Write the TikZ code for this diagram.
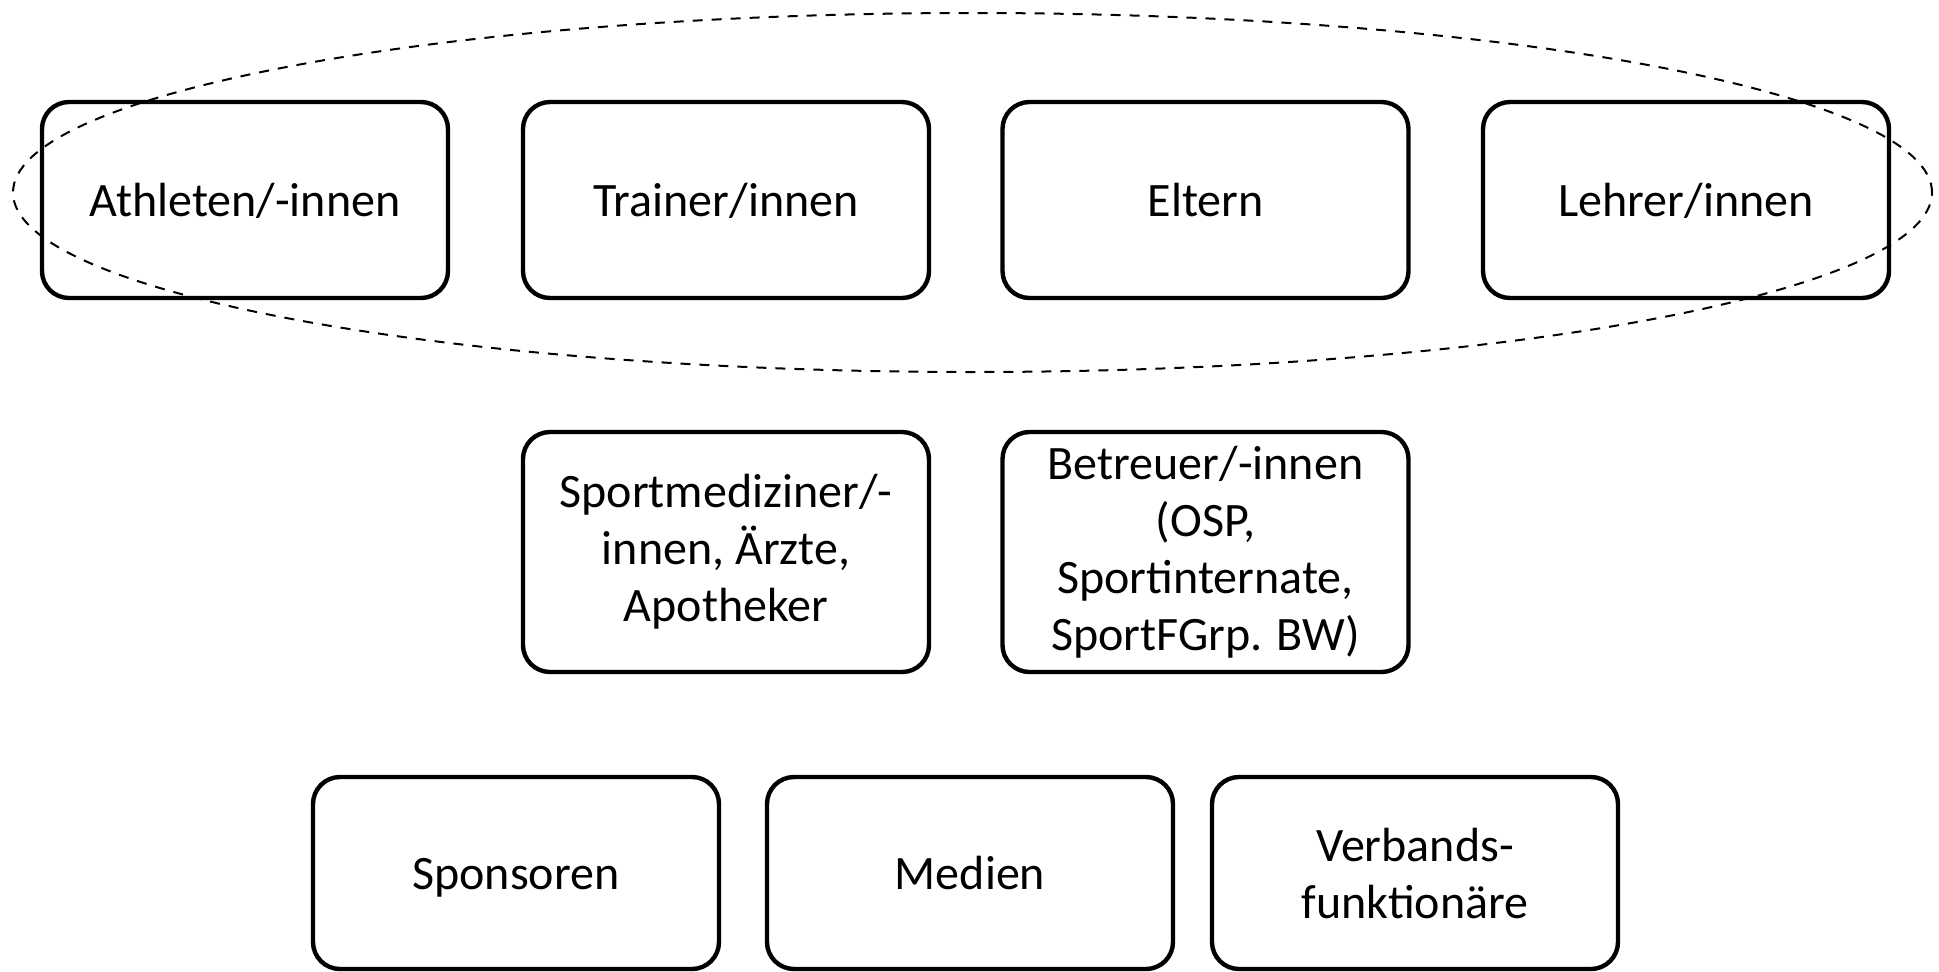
\documentclass[tikz,border=0pt]{standalone}
\usepackage{fontspec}
\setmainfont{Carlito}
\newcommand\boxstrut{\rule[-5pt]{0pt}{26.5pt}}
\begin{document}
\begin{tikzpicture}[x=0.5pt,y=-0.5pt,
  box/.style={draw, line width=2.2pt, rounded corners=13.5pt, minimum width=203pt, align=center,
    font=\fontsize{24pt}{28.5pt}\selectfont, inner sep=2pt},
  top/.style={box, minimum height=98pt},
  mid/.style={box, minimum height=120pt},
  bot/.style={box, minimum height=96pt},
  group/.style={draw, dashed, line width=1pt, dash pattern=on 5pt off 4.5pt}]
\useasboundingbox (0,0) rectangle (1939,971);
\node[top] (ath) at (245,200) {\boxstrut Athleten/-innen};
\node[top] (tra) at (726,200) {\boxstrut Trainer/innen};
\node[top] (elt) at (1205.5,200) {\boxstrut Eltern};
\node[top] (leh) at (1686,200) {\boxstrut Lehrer/innen};
\node[mid] (med) at (726,552) {Sportmediziner/-\\innen, Ärzte,\\Apotheker};
\node[mid] (bet) at (1205.5,552) {Betreuer/-innen\\(OSP,\\Sportinternate,\\SportFGrp. BW)};
\node[bot] (spo) at (516,873) {\boxstrut Sponsoren};
\node[bot] (mdn) at (970,873) {\boxstrut Medien};
\node[bot] (ver) at (1415,873) {Verbands-\\funktionäre};
\draw[group] (972.5,192.5) ellipse [x radius=479.75pt, y radius=89.75pt];
\end{tikzpicture}
\end{document}
